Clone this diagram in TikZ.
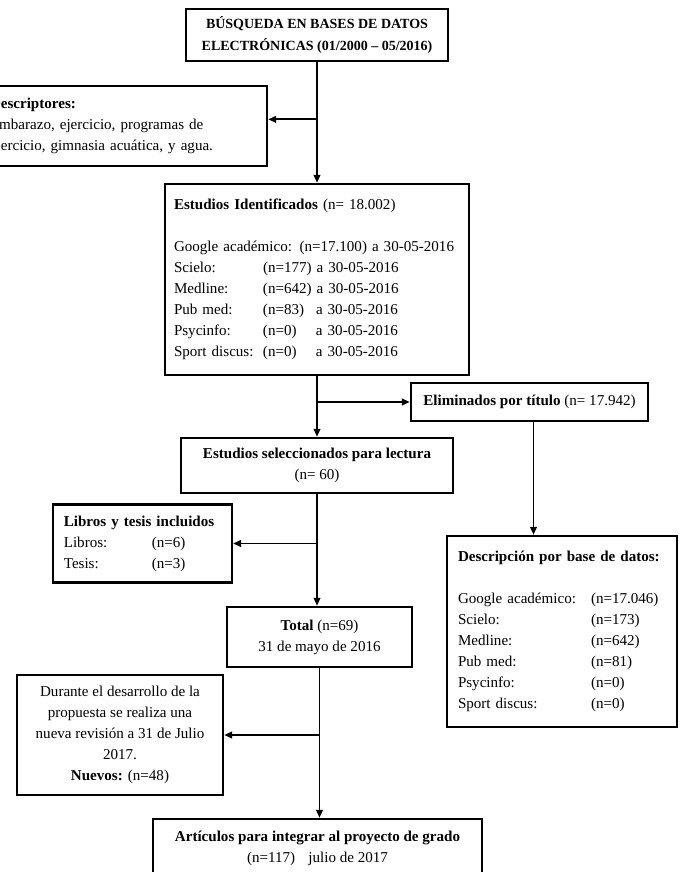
\documentclass[tikz,border=0pt]{standalone}
\usepackage{fontspec}
\setmainfont{Liberation Serif}
\usetikzlibrary{arrows.meta,positioning,calc}

\newcommand{\boxfont}{\fontsize{11.3}{15.75}\selectfont}
\newcommand{\fixcol}[2]{\makebox[#1][l]{#2}}

\begin{document}
\begin{tikzpicture}[
    x=0.75pt, y=-0.75pt,
    box/.style={rectangle, draw, line width=1.8pt, inner sep=0pt, font=\boxfont, align=center},
    listbox/.style={box, align=left},
    arrow/.style={-{Triangle[length=6pt,width=5pt]}, line width=1.4pt}
]
\useasboundingbox (0,0) rectangle (684,872);
\clip (0,0) rectangle (684,872);

% Search
\node[box, minimum width=196.5pt, minimum height=39pt, font=\fontsize{10.5}{16}\selectfont\bfseries] (busq) at (317,35)
    {BÚSQUEDA EN BASES DE DATOS\\ELECTRÓNICAS (01/2000 – 05/2016)};
\node[listbox, minimum height=60pt, inner xsep=7.5pt, text width=200.25pt] (desc) at (123.5,126)
    {\textbf{Descriptores:}\\Embarazo, ejercicio, programas de\\ejercicio, gimnasia acuática, y agua.};
\coordinate (descin) at ([yshift=5pt]desc.east);

% Identified studies
\node[listbox, minimum height=143.25pt, inner xsep=6.75pt, text width=214.5pt] (ident) at (317,279.5)
    {\textbf{Estudios Identificados} (n= 18.002)\\[15.75pt]
     Google académico: (n=17.100) a 30-05-2016\\
     \fixcol{66.75pt}{Scielo:}(n=177) a 30-05-2016\\
     \fixcol{66.75pt}{Medline:}(n=642) a 30-05-2016\\
     \fixcol{66.75pt}{Pub med:}\fixcol{39.75pt}{(n=83)}a 30-05-2016\\
     \fixcol{66.75pt}{Psycinfo:}\fixcol{39.75pt}{(n=0)}a 30-05-2016\\
     \fixcol{66.75pt}{Sport discus:}\fixcol{39.75pt}{(n=0)}a 30-05-2016};
\node[box, minimum width=177.75pt, minimum height=28.5pt] (elim) at (529.5,402)
    {\textbf{Eliminados por título} (n= 17.942)};
\coordinate (elimout) at ([xshift=3pt]elim.south);

% Selected for reading
\node[box, minimum width=204pt, minimum height=41.25pt] (sel) at (317,465.5)
    {\textbf{Estudios seleccionados para lectura}\\(n= 60)};
\node[listbox, minimum height=58.5pt, inner xsep=8pt, text width=118pt] (libros) at (142.5,543.5)
    {\textbf{Libros y tesis incluidos}\\
     \fixcol{66pt}{Libros:}(n=6)\\
     \fixcol{66pt}{Tesis:}(n=3)};
\node[listbox, minimum height=143.25pt, inner xsep=8.25pt, text width=156pt] (dbase) at (562,631.5)
    {\textbf{Descripción por base de datos:}\\[15.75pt]
     \fixcol{99.75pt}{Google académico:}(n=17.046)\\
     \fixcol{99.75pt}{Scielo:}(n=173)\\
     \fixcol{99.75pt}{Medline:}(n=642)\\
     \fixcol{99.75pt}{Pub med:}(n=81)\\
     \fixcol{99.75pt}{Psycinfo:}(n=0)\\
     \fixcol{99.75pt}{Sport discus:}(n=0)};

% Total and new review
\node[box, minimum width=138.75pt, minimum height=45pt] (total) at (319.5,637)
    {\textbf{Total} (n=69)\\31 de mayo de 2016};
\node[box, minimum width=154.5pt, minimum height=90pt] (durante) at (120,735)
    {Durante el desarrollo de la\\propuesta se realiza una\\nueva revisión a 31 de Julio\\2017.\\\textbf{Nuevos:} (n=48)};
\node[box, minimum width=246.75pt, minimum height=44.25pt] (final) at (317.5,848.5)
    {\textbf{Artículos para integrar al proyecto de grado}\\(n=117)\hspace{10pt}julio de 2017};

% Connectors
\draw[arrow] (busq.south) -- (ident.north);
\draw[arrow] (busq.south |- descin) -- (descin);
\draw[arrow] (ident.south) -- (sel.north);
\draw[arrow] (ident.south |- elim.west) -- (elim.west);
\draw[arrow] (elimout) -- (elimout |- dbase.north);
\draw[arrow] (sel.south) -- (sel.south |- total.north);
\draw[arrow] (sel.south |- libros.east) -- (libros.east);
\draw[arrow] (total.south) -- (total.south |- final.north);
\draw[arrow] (total.south |- durante.east) -- (durante.east);

\end{tikzpicture}
\end{document}
